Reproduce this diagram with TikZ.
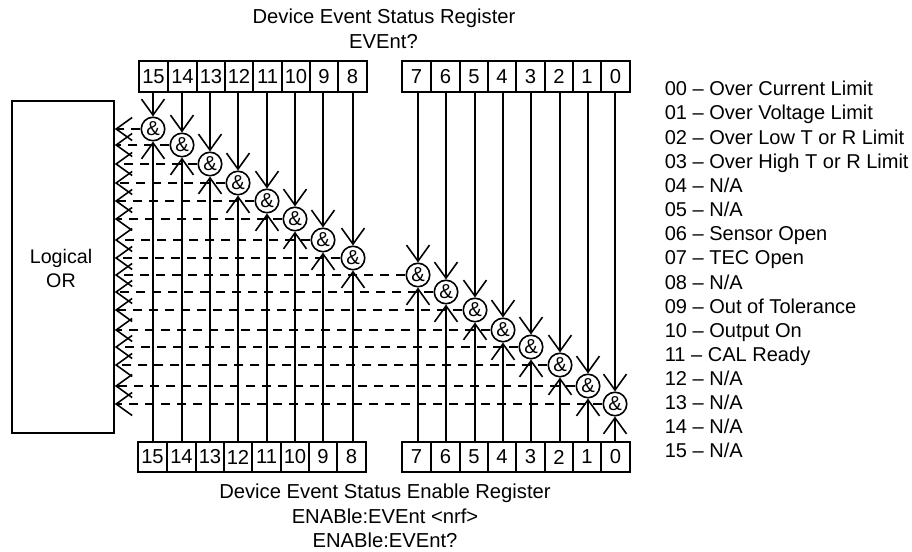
\documentclass[tikz,border=0pt]{standalone}
\usepackage{fontspec}
\setmainfont{Liberation Sans}
\usetikzlibrary{arrows.meta}
\begin{document}
\begin{tikzpicture}[
        cell/.style={draw, minimum width=0.57cm, minimum height=0.61cm, inner sep=0pt, font=\fontsize{11.5}{13}\selectfont},
        gate/.style={draw, circle, minimum size=0.47cm, inner sep=0pt, font=\fontsize{11.5}{13}\selectfont},
        legend/.style={anchor=west, inner sep=0pt, text height=10.2pt, text depth=2pt, font=\fontsize{11.4}{13}\selectfont},
        title/.style={inner sep=0pt, font=\fontsize{11.5}{13}\selectfont},
        signal/.style={->},
        masked/.style={->, dash pattern=on 0.19cm off 0.13cm},
        >={Straight Barb[length=0.32cm, width=0.46cm]},
        line width=0.9pt
    ]
        \useasboundingbox (0,0) rectangle (18.24,-11.04);

        % Titles
        \node[title] (ttop) at (7.68,-0.36) {Device Event Status Register};
        \node[title] (tquery) at (7.67,-0.84) {EVEnt?};
        \node[title] (bttl) at (7.70,-9.86) {Device Event Status Enable Register};
        \node[title] (bset) at (7.70,-10.32) {ENABle:EVEnt <nrf>};
        \node[title] (bquery) at (7.70,-10.80) {ENABle:EVEnt?};

        % Logical OR block
        \node[draw, minimum width=2.04cm, minimum height=6.64cm] (OR) at (1.26,-5.34) {};
        \node[align=center, inner sep=0pt, font=\fontsize{11.2}{13.4}\selectfont] (ORtext) at (1.22,-5.37) {Logical\\OR};

        % Status register
        \node[cell] (T15) at (3.07,-1.53) {15};
        \node[cell] (T14) at (3.65,-1.53) {14};
        \node[cell] (T13) at (4.22,-1.53) {13};
        \node[cell] (T12) at (4.78,-1.53) {12};
        \node[cell] (T11) at (5.35,-1.53) {11};
        \node[cell] (T10) at (5.92,-1.53) {10};
        \node[cell] (T9) at (6.48,-1.53) {9};
        \node[cell] (T8) at (7.05,-1.53) {8};
        \node[cell] (T7) at (8.33,-1.53) {7};
        \node[cell] (T6) at (8.91,-1.53) {6};
        \node[cell] (T5) at (9.48,-1.53) {5};
        \node[cell] (T4) at (10.04,-1.53) {4};
        \node[cell] (T3) at (10.61,-1.53) {3};
        \node[cell] (T2) at (11.18,-1.53) {2};
        \node[cell] (T1) at (11.74,-1.53) {1};
        \node[cell] (T0) at (12.31,-1.53) {0};

        % Enable register
        \node[cell] (B15) at (3.05,-9.14) {15};
        \node[cell] (B14) at (3.63,-9.14) {14};
        \node[cell] (B13) at (4.20,-9.14) {13};
        \node[cell] (B12) at (4.76,-9.14) {12};
        \node[cell] (B11) at (5.33,-9.14) {11};
        \node[cell] (B10) at (5.90,-9.14) {10};
        \node[cell] (B9) at (6.46,-9.14) {9};
        \node[cell] (B8) at (7.03,-9.14) {8};
        \node[cell] (B7) at (8.33,-9.14) {7};
        \node[cell] (B6) at (8.91,-9.14) {6};
        \node[cell] (B5) at (9.48,-9.14) {5};
        \node[cell] (B4) at (10.04,-9.14) {4};
        \node[cell] (B3) at (10.61,-9.14) {3};
        \node[cell] (B2) at (11.18,-9.14) {2};
        \node[cell] (B1) at (11.74,-9.14) {1};
        \node[cell] (B0) at (12.31,-9.14) {0};

        % AND gates
        \node[gate] (G15) at (3.06,-2.58) {\&};
        \node[gate] (G14) at (3.64,-2.90) {\&};
        \node[gate] (G13) at (4.20,-3.28) {\&};
        \node[gate] (G12) at (4.76,-3.66) {\&};
        \node[gate] (G11) at (5.34,-4.02) {\&};
        \node[gate] (G10) at (5.90,-4.38) {\&};
        \node[gate] (G9) at (6.46,-4.80) {\&};
        \node[gate] (G8) at (7.06,-5.16) {\&};
        \node[gate] (G7) at (8.36,-5.50) {\&};
        \node[gate] (G6) at (8.92,-5.84) {\&};
        \node[gate] (G5) at (9.50,-6.20) {\&};
        \node[gate] (G4) at (10.06,-6.60) {\&};
        \node[gate] (G3) at (10.62,-6.94) {\&};
        \node[gate] (G2) at (11.20,-7.30) {\&};
        \node[gate] (G1) at (11.76,-7.72) {\&};
        \node[gate] (G0) at (12.30,-8.08) {\&};

        % Bit descriptions
        \node[legend] (L00) at (13.28,-1.76) {00 – Over Current Limit};
        \node[legend] (L01) at (13.28,-2.24) {01 – Over Voltage Limit};
        \node[legend] (L02) at (13.28,-2.74) {02 – Over Low T or R Limit};
        \node[legend] (L03) at (13.28,-3.22) {03 – Over High T or R Limit};
        \node[legend] (L04) at (13.28,-3.70) {04 – N/A};
        \node[legend] (L05) at (13.28,-4.18) {05 – N/A};
        \node[legend] (L06) at (13.28,-4.66) {06 – Sensor Open};
        \node[legend] (L07) at (13.28,-5.14) {07 – TEC Open};
        \node[legend] (L08) at (13.28,-5.64) {08 – N/A};
        \node[legend] (L09) at (13.28,-6.12) {09 – Out of Tolerance};
        \node[legend] (L10) at (13.28,-6.60) {10 – Output On};
        \node[legend] (L11) at (13.28,-7.08) {11 – CAL Ready};
        \node[legend] (L12) at (13.28,-7.56) {12 – N/A};
        \node[legend] (L13) at (13.28,-8.04) {13 – N/A};
        \node[legend] (L14) at (13.28,-8.52) {14 – N/A};
        \node[legend] (L15) at (13.28,-9.00) {15 – N/A};

        % Status bits into gates
        \draw[signal] (T15.south -| G15) -- (G15);
        \draw[signal] (T14.south -| G14) -- (G14);
        \draw[signal] (T13.south -| G13) -- (G13);
        \draw[signal] (T12.south -| G12) -- (G12);
        \draw[signal] (T11.south -| G11) -- (G11);
        \draw[signal] (T10.south -| G10) -- (G10);
        \draw[signal] (T9.south -| G9) -- (G9);
        \draw[signal] (T8.south -| G8) -- (G8);
        \draw[signal] (T7.south -| G7) -- (G7);
        \draw[signal] (T6.south -| G6) -- (G6);
        \draw[signal] (T5.south -| G5) -- (G5);
        \draw[signal] (T4.south -| G4) -- (G4);
        \draw[signal] (T3.south -| G3) -- (G3);
        \draw[signal] (T2.south -| G2) -- (G2);
        \draw[signal] (T1.south -| G1) -- (G1);
        \draw[signal] (T0.south -| G0) -- (G0);

        % Enable bits into gates
        \draw[signal] (B15.north -| G15) -- (G15);
        \draw[signal] (B14.north -| G14) -- (G14);
        \draw[signal] (B13.north -| G13) -- (G13);
        \draw[signal] (B12.north -| G12) -- (G12);
        \draw[signal] (B11.north -| G11) -- (G11);
        \draw[signal] (B10.north -| G10) -- (G10);
        \draw[signal] (B9.north -| G9) -- (G9);
        \draw[signal] (B8.north -| G8) -- (G8);
        \draw[signal] (B7.north -| G7) -- (G7);
        \draw[signal] (B6.north -| G6) -- (G6);
        \draw[signal] (B5.north -| G5) -- (G5);
        \draw[signal] (B4.north -| G4) -- (G4);
        \draw[signal] (B3.north -| G3) -- (G3);
        \draw[signal] (B2.north -| G2) -- (G2);
        \draw[signal] (B1.north -| G1) -- (G1);
        \draw[signal] (B0.north -| G0) -- (G0);

        % Gate outputs to Logical OR
        \draw[masked] (G15) -- (OR.east |- G15);
        \draw[masked] (G14) -- (OR.east |- G14);
        \draw[masked] (G13) -- (OR.east |- G13);
        \draw[masked] (G12) -- (OR.east |- G12);
        \draw[masked] (G11) -- (OR.east |- G11);
        \draw[masked] (G10) -- (OR.east |- G10);
        \draw[masked] (G9) -- (OR.east |- G9);
        \draw[masked] (G8) -- (OR.east |- G8);
        \draw[masked] (G7) -- (OR.east |- G7);
        \draw[masked] (G6) -- (OR.east |- G6);
        \draw[masked] (G5) -- (OR.east |- G5);
        \draw[masked] (G4) -- (OR.east |- G4);
        \draw[masked] (G3) -- (OR.east |- G3);
        \draw[masked] (G2) -- (OR.east |- G2);
        \draw[masked] (G1) -- (OR.east |- G1);
        \draw[masked] (G0) -- (OR.east |- G0);
    \end{tikzpicture}
\end{document}
